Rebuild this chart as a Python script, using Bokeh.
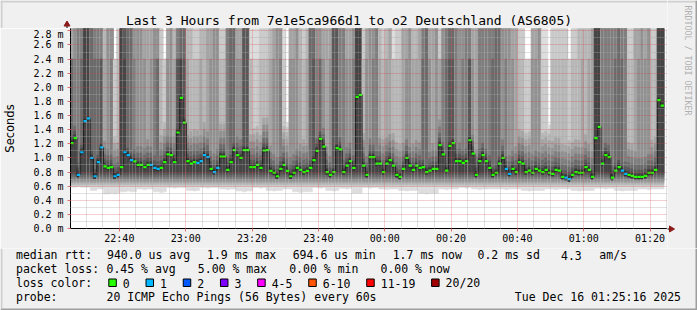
import math
from bokeh.plotting import figure
from bokeh.models import Range1d, FixedTicker, ColumnDataSource
from bokeh.layouts import column, row
from bokeh.core.properties import value
from bokeh.embed import file_html
from bokeh.resources import INLINE

# ---------------- data ----------------
# minutes after 22:00; graph spans 22:25:16 .. 01:25:16
X_START_MIN = 25.27
X_END_MIN = 205.27
FIRST_COL_MIN = 25.2
Y_MAX_MS = 2.8333

X_TICKS = [40, 60, 80, 100, 120, 140, 160, 180, 200]
X_TICK_LABELS = ["22:40", "23:00", "23:20", "23:40", "00:00", "00:20", "00:40", "01:00", "01:20"]
Y_TICKS = [0.0, 0.2, 0.4, 0.6, 0.8, 1.0, 1.2, 1.4, 1.6, 1.8, 2.0, 2.2, 2.4, 2.6, 2.8]
Y_MINOR = [0.1, 0.3, 0.5, 0.7, 0.9, 1.1, 1.3, 1.5, 1.7, 1.9, 2.1, 2.3, 2.5, 2.7]

# median rtt per minute (ms)
MEDIAN_MS = [
    1.21, 1.28, 0.76, 1.08, 1.52, 1.56, 1.00, 0.74, 0.94, 1.15,
    0.88, 0.86, 0.87, 0.74, 0.76, 0.87, 1.08, 1.04, 0.97, 0.95,
    0.90, 0.90, 0.87, 0.90, 0.90, 0.86, 0.845, 0.86, 0.94, 1.05,
    1.04, 0.94, 1.36, 1.85, 1.50, 0.955, 0.92, 0.94, 0.93, 0.955,
    1.04, 1.01, 0.845, 0.80, 0.86, 1.02, 1.02, 0.83, 0.94, 1.11,
    1.04, 1.00, 1.11, 1.11, 0.87, 0.87, 0.90, 0.86, 1.105, 1.11,
    0.816, 0.79, 0.74, 0.845, 0.90, 0.816, 0.74, 0.79, 0.86, 0.83,
    0.80, 0.816, 0.86, 0.97, 1.10, 1.27, 1.16, 0.80, 0.76, 0.80,
    1.14, 1.12, 0.80, 0.89, 0.955, 0.86, 1.864, 1.893, 0.89, 0.76,
    1.01, 1.01, 0.92, 0.92, 0.80, 0.92, 0.97, 0.89, 0.76, 0.73,
    0.845, 1.00, 0.89, 0.83, 0.89, 0.86, 0.87, 0.80, 0.82, 0.845,
    0.845, 1.18, 1.05, 0.82, 1.17, 1.21, 0.955, 0.955, 0.93, 0.955,
    1.25, 1.06, 0.76, 0.955, 1.04, 0.955, 0.86, 0.76, 0.79, 0.92,
    1.00, 0.845, 0.775, 0.845, 0.80, 0.94, 0.92, 0.80, 0.82, 0.79,
    0.845, 0.82, 0.80, 0.83, 0.79, 0.775, 0.83, 0.82, 0.73, 0.72,
    0.70, 0.76, 0.80, 0.79, 0.79, 0.87, 0.83, 0.73, 1.28, 1.44,
    0.92, 1.04, 1.01, 0.72, 0.82, 0.87, 0.82, 0.775, 0.76, 0.745,
    0.73, 0.73, 0.73, 0.745, 0.79, 0.79, 0.83, 1.82, 1.74,
]

# lost pings (of 20) per minute
LOSS = [
    0, 0, 1, 1, 1, 1, 1, 1, 1, 1,
    0, 0, 0, 1, 1, 0, 1, 1, 1, 0,
    0, 0, 0, 0, 1, 1, 1, 0, 0, 0,
    0, 0, 0, 0, 0, 0, 0, 0, 1, 1,
    1, 1, 0, 1, 1, 0, 0, 0, 0, 0,
    0, 0, 0, 0, 0, 0, 0, 0, 0, 0,
    0, 0, 0, 0, 0, 0, 0, 0, 0, 0,
    0, 0, 0, 0, 0, 0, 0, 0, 0, 0,
    0, 0, 0, 0, 0, 0, 0, 0, 0, 0,
    0, 0, 0, 0, 0, 0, 0, 0, 0, 0,
    0, 0, 0, 0, 0, 0, 0, 0, 0, 0,
    0, 0, 0, 0, 0, 0, 0, 0, 0, 0,
    0, 0, 0, 0, 0, 0, 0, 0, 0, 0,
    0, 1, 1, 0, 0, 0, 0, 0, 0, 0,
    0, 0, 0, 0, 0, 0, 0, 0, 0, 1,
    1, 0, 0, 0, 0, 0, 0, 0, 0, 0,
    0, 0, 0, 0, 0, 0, 1, 1, 0, 0,
    0, 0, 0, 0, 0, 0, 0, 0, 0,
]

# fastest ping per minute (bottom of the smoke, ms)
SMOKE_MIN_MS = [
    0.585, 0.585, 0.60, 0.585, 0.585, 0.585, 0.54, 0.54, 0.56, 0.56,
    0.49, 0.49, 0.50, 0.49, 0.50, 0.52, 0.52, 0.53, 0.52, 0.52,
    0.56, 0.56, 0.55, 0.56, 0.56, 0.52, 0.52, 0.51, 0.52, 0.58,
    0.58, 0.57, 0.58, 0.58, 0.58, 0.54, 0.54, 0.53, 0.54, 0.58,
    0.58, 0.57, 0.58, 0.58, 0.58, 0.56, 0.56, 0.55, 0.56, 0.56,
    0.53, 0.53, 0.52, 0.53, 0.53, 0.58, 0.58, 0.57, 0.58, 0.54,
    0.54, 0.53, 0.54, 0.54, 0.56, 0.56, 0.56, 0.52, 0.52, 0.51,
    0.52, 0.52, 0.52, 0.58, 0.58, 0.57, 0.58, 0.54, 0.54, 0.53,
    0.54, 0.57, 0.57, 0.56, 0.57, 0.50, 0.50, 0.50, 0.58, 0.58,
    0.57, 0.58, 0.58, 0.56, 0.56, 0.55, 0.56, 0.56, 0.56, 0.54,
    0.54, 0.53, 0.54, 0.54, 0.54, 0.50, 0.50, 0.49, 0.50, 0.50,
    0.50, 0.56, 0.56, 0.55, 0.56, 0.56, 0.56, 0.58, 0.58, 0.57,
    0.58, 0.56, 0.56, 0.55, 0.56, 0.56, 0.56, 0.56, 0.56, 0.56,
    0.56, 0.55, 0.56, 0.56, 0.56, 0.56, 0.54, 0.54, 0.53, 0.54,
    0.54, 0.54, 0.54, 0.56, 0.56, 0.56, 0.55, 0.56, 0.56, 0.56,
    0.56, 0.54, 0.54, 0.53, 0.54, 0.54, 0.54, 0.54, 0.57, 0.57,
    0.57, 0.56, 0.57, 0.57, 0.54, 0.54, 0.53, 0.54, 0.54, 0.54,
    0.54, 0.56, 0.56, 0.56, 0.55, 0.56, 0.56, 0.56, 0.56,
]

# number of pings (of 20) above ~2.4 ms, per minute (smoke shade at the top)
TOP_CNT = [
    4, 5, 6, 6, 9, 9, 7, 6, 6, 6,
    3, 5, 5, 0, 2, 9, 8, 7, 7, 5,
    5, 5, 4, 4, 4, 5, 5, 2, 0, 4,
    5, 3, 6, 7, 7, 3, 3, 2, 2, 3,
    3, 4, 4, 5, 5, 2, 2, 6, 7, 7,
    4, 4, 8, 8, 1, 1, 1, 2, 2, 2,
    3, 4, 5, 5, 1, 0, 4, 4, 5, 3,
    2, 3, 7, 7, 5, 5, 4, 4, 4, 8,
    8, 6, 6, 4, 4, 5, 9, 9, 2, 4,
    5, 5, 6, 3, 2, 3, 4, 1, 2, 2,
    4, 4, 5, 3, 3, 4, 6, 7, 4, 4,
    5, 2, 5, 6, 7, 7, 6, 5, 5, 6,
    6, 4, 4, 6, 6, 6, 6, 6, 7, 7,
    5, 5, 5, 4, 4, 2, 2, 0, 0, 4,
    4, 5, 1, 1, 0, 2, 2, 2, 2, 2,
    0, 2, 2, 3, 3, 3, 3, 4, 9, 9,
    6, 6, 6, 6, 6, 7, 6, 6, 2, 2,
    4, 4, 5, 4, 5, 2, 2, 9, 9,
]

# number of pings (of 20) above ~1.4 ms, per minute
MID_CNT = [
    7, 6, 6, 7, 9, 9, 7, 7, 7, 8,
    4, 5, 6, 2, 3, 9, 9, 7, 7, 6,
    5, 5, 5, 4, 5, 6, 7, 3, 2, 5,
    5, 4, 8, 9, 8, 4, 3, 3, 3, 4,
    3, 4, 5, 5, 5, 3, 3, 6, 7, 7,
    5, 5, 8, 8, 3, 2, 2, 3, 3, 3,
    4, 5, 5, 6, 2, 0, 5, 5, 5, 4,
    3, 4, 7, 8, 6, 7, 5, 4, 5, 8,
    8, 6, 6, 5, 5, 6, 9, 9, 3, 5,
    5, 6, 6, 4, 3, 4, 4, 3, 3, 3,
    4, 5, 5, 4, 4, 4, 7, 7, 5, 4,
    5, 4, 6, 7, 8, 8, 6, 5, 6, 6,
    8, 5, 4, 6, 6, 6, 6, 7, 7, 7,
    5, 6, 5, 5, 4, 3, 3, 2, 2, 5,
    5, 5, 2, 2, 0, 3, 3, 3, 3, 3,
    2, 3, 3, 3, 4, 3, 4, 4, 9, 9,
    6, 6, 6, 6, 7, 7, 7, 6, 3, 3,
    4, 5, 5, 5, 5, 3, 3, 9, 9,
]

# typical lower pings 2..9 (ms) and spacing of the upper pings above the median
LOWER_PINGS_MS = [0.60, 0.62, 0.645, 0.67, 0.70, 0.73, 0.76, 0.79]
NEAR_OFFSETS_MS = [0.68, 0.62, 0.55, 0.46, 0.36, 0.26, 0.17, 0.10, 0.05]

LOSS_COLORS = ["#26ff00", "#00b8ff", "#0059ff", "#7e00ff", "#ff00ff", "#ff5500", "#ff0000", "#a10000"]
LOSS_LABELS = ["0", "1", "2", "3", "4-5", "6-10", "11-19", "20/20"]
LOSS_BUCKET_MAX = [0, 1, 2, 3, 5, 10, 19, 20]

TITLE = "Last 3 Hours from 7e1e5ca966d1 to o2 Deutschland (AS6805)"
LEGEND_LINE1 = [("median rtt:", 15.5), ("940.0 us avg", 106.5), ("1.9 ms max", 206.5),
                ("694.6 us min", 292.2), ("1.7 ms now", 392.2), ("0.2 ms sd", 477.0),
                ("4.3", 560.5), ("am/s", 598.8)]
LEGEND_LINE2 = [("packet loss:", 15.5), ("0.45 % avg", 106.0), ("5.00 % max", 197.3),
                ("0.00 % min", 288.7), ("0.00 % now", 380.0)]
PROBE_TEXT = "20 ICMP Echo Pings (56 Bytes) every 60s"
DATE_TEXT = "Tue Dec 16 01:25:16 2025"

# ---------------- geometry (canvas px) ----------------
W, H = 697, 310
FL, FR, FT, FB = 67, 667, 28, 228      # chart frame edges
MAIN_H = 220                            # main figure: y 28 .. 248
LEG_Y0 = FT + MAIN_H                    # legend figure: y 248 .. 310
BG = "#f0f0f0"
MONO = "DejaVu Sans Mono"
LEG = 11.5


def gray(i):
    v = int(190 / 10 * (10 - i)) + 50
    return "#%02x%02x%02x" % (v, v, v)


def bucket(n):
    for b, mx in enumerate(LOSS_BUCKET_MAX):
        if n <= mx:
            return b
    return len(LOSS_BUCKET_MAX) - 1


def pixel_fig(x0, y0, w, h):
    return figure(width=w, height=h, output_backend="svg", toolbar_location=None, tools="",
                  x_range=Range1d(x0, x0 + w), y_range=Range1d(y0 + h, y0),
                  min_border=0, x_axis_type=None, y_axis_type=None, title=None,
                  background_fill_color=BG, border_fill_color=BG, outline_line_color=None)


def ptext(f, t, x, base_y, size, font=MONO, align="left", color="#000000"):
    # place the text so that its alphabetic baseline lies at base_y
    f.text(x=[x], y=[base_y - 0.346 * size], text=[t], text_font=value(font),
           text_font_size=value("%.1fpx" % size), text_color=color, text_align=align,
           text_baseline="middle")


def pbox(f, x0, y0, x1, y1, fill, line=None):
    f.quad(left=[x0], right=[x1], top=[y0], bottom=[y1], fill_color=fill,
           line_color=line, line_width=1)


# ---------------- main chart ----------------
N = len(MEDIAN_MS)
col_left = [FIRST_COL_MIN + k for k in range(N)]
col_right = [c + 1 for c in col_left]

sm = dict(left=[], right=[], bottom=[], top=[], color=[])
for k in range(N):
    med = MEDIAN_MS[k]
    p10 = med - 0.03
    lows = [min(v, p10) for v in [SMOKE_MIN_MS[k]] + LOWER_PINGS_MS]
    mid = MID_CNT[k]
    tc = min(TOP_CNT[k], mid)
    ups = []
    for j in range(9, 0, -1):
        if j <= tc:
            v = 3.2
        elif j <= mid:
            v = 2.4
        else:
            v = min(med + NEAR_OFFSETS_MS[j - 1], 2.39)
        ups.append(v)
    pings = sorted(lows + [p10, med + 0.03] + ups)
    for i in range(1, 11):
        sm["left"].append(col_left[k])
        sm["right"].append(col_right[k])
        sm["bottom"].append(pings[i - 1])
        sm["top"].append(min(pings[20 - i], Y_MAX_MS + 0.05))
        sm["color"].append(gray(i))

p = figure(width=FR, height=MAIN_H, output_backend="svg", toolbar_location=None, tools="",
           x_range=Range1d(X_START_MIN, X_END_MIN), y_range=Range1d(0, Y_MAX_MS),
           min_border_left=FL, min_border_right=0, min_border_top=0,
           min_border_bottom=MAIN_H - (FB - FT), title=None,
           background_fill_color="#ffffff", border_fill_color=BG, outline_line_color=None)

p.quad(left="left", right="right", bottom="bottom", top="top", fill_color="color",
       line_color="color", line_width=0.5, source=ColumnDataSource(sm))

p.step(x=col_left + [col_right[-1]], y=MEDIAN_MS + [MEDIAN_MS[-1]], mode="after",
       line_color="#202020", line_width=1)
SW = Y_MAX_MS / 200 * 1.1
p.quad(left=col_left, right=col_right, bottom=[m - SW for m in MEDIAN_MS],
       top=[m + SW for m in MEDIAN_MS],
       fill_color=[LOSS_COLORS[bucket(n)] for n in LOSS], line_color=None)

x_minor = [m for m in range(30, 206, 5) if m % 20]
p.xaxis.ticker = FixedTicker(ticks=X_TICKS, minor_ticks=x_minor)
p.xgrid.ticker = FixedTicker(ticks=X_TICKS, minor_ticks=x_minor)
p.yaxis.ticker = FixedTicker(ticks=Y_TICKS, minor_ticks=Y_MINOR)
p.ygrid.ticker = FixedTicker(ticks=Y_TICKS, minor_ticks=Y_MINOR)
p.xaxis.major_label_overrides = dict(zip(X_TICKS, X_TICK_LABELS))
p.yaxis.major_label_overrides = {v: "%.1f m" % v for v in Y_TICKS}

for ax in (p.xaxis, p.yaxis):
    ax.axis_line_color = "#000000"
    ax.axis_line_width = 1
    ax.major_tick_in = 0
    ax.major_tick_out = 3
    ax.major_tick_line_color = "#e07070"
    ax.minor_tick_in = 0
    ax.minor_tick_out = 0
    ax.major_label_text_font = MONO
    ax.major_label_text_font_size = "10px"
    ax.major_label_text_color = "#000000"
p.yaxis.major_label_standoff = 4
p.xaxis.major_label_standoff = 1
p.yaxis.axis_label = "Seconds"
p.yaxis.axis_label_text_font = "DejaVu Sans"
p.yaxis.axis_label_text_font_size = "11.5px"
p.yaxis.axis_label_text_font_style = "normal"
p.yaxis.axis_label_text_color = "#000000"
p.yaxis.axis_label_standoff = 13

for g in (p.xgrid, p.ygrid):
    g.level = "guide"
    g.grid_line_color = "#d04040"
    g.grid_line_alpha = 0.5
    g.grid_line_dash = "1 1"
    g.minor_grid_line_color = "#a8a8a8"
    g.minor_grid_line_alpha = 0.7
    g.minor_grid_line_dash = "1 1"

# ---------------- title strip (y 0..28, x 0..667) ----------------
top = pixel_fig(0, 0, FR, FT)
pbox(top, 0, 0, FR, 2, "#cfcfcf")
pbox(top, 0, 0, 2, FT, "#cfcfcf")
ptext(top, TITLE, 348.5, 24, 13.0, align="center")
top.segment(x0=[66.5], y0=[FT], x1=[66.5], y1=[23.5], line_color="#000000", line_width=1)
top.patch(x=[63.5, 69.5, 66.5], y=[25.5, 25.5, 20.5], fill_color="#8b1a1a", line_color="#8b1a1a")

# ---------------- right strip (x 667..697, y 0..248) ----------------
rs = pixel_fig(FR, 0, W - FR, LEG_Y0)
pbox(rs, FR, 0, W, 2, "#cfcfcf")
pbox(rs, W - 2, 0, W, LEG_Y0, "#9e9e9e")
rs.text(x=[687.5], y=[5], text=["RRDTOOL / TOBI OETIKER"], text_font=value(MONO),
        text_font_size=value("8.3px"), text_color="#b0b0b0", text_align="left",
        text_baseline="middle", angle=-math.pi / 2)
rs.segment(x0=[FR - 0.5], y0=[FB + 0.5], x1=[670], y1=[FB + 0.5], line_color="#000000", line_width=1)
rs.patch(x=[669, 669, 674], y=[FB - 2.5, FB + 3.5, FB + 0.5], fill_color="#8b1a1a",
         line_color="#8b1a1a")

# ---------------- legend strip (y 248..310) ----------------
lg = pixel_fig(0, LEG_Y0, W, H - LEG_Y0)
pbox(lg, 0, H - 2, W, H, "#9e9e9e")
pbox(lg, W - 2, LEG_Y0, W, H, "#9e9e9e")
pbox(lg, 0, LEG_Y0, 2, H - 2, "#cfcfcf")
for t, x in LEGEND_LINE1:
    ptext(lg, t, x, 258.5, LEG)
for t, x in LEGEND_LINE2:
    ptext(lg, t, x, 272.5, LEG)
ptext(lg, "loss color:", 15.5, 286.5, LEG)
CW = 6.92
xpos = 108.3
for c, lab in zip(LOSS_COLORS, LOSS_LABELS):
    pbox(lg, xpos, 278.5, xpos + 7.5, 286.0, c, "#000000")
    ptext(lg, lab, xpos + 14.0, 286.5, LEG)
    xpos = xpos + 14.0 + CW * len(lab) + 16.3
ptext(lg, "probe:", 15.5, 300.5, LEG)
ptext(lg, PROBE_TEXT, 106.0, 300.5, LEG)
ptext(lg, DATE_TEXT, 680.5, 300.5, LEG, align="right")

# wrap the title strip in its own column so its frame is not aligned to the chart frame
root = column(row(column(column(top), p), rs), lg)
open("out.html", "w").write(file_html(root, INLINE))
